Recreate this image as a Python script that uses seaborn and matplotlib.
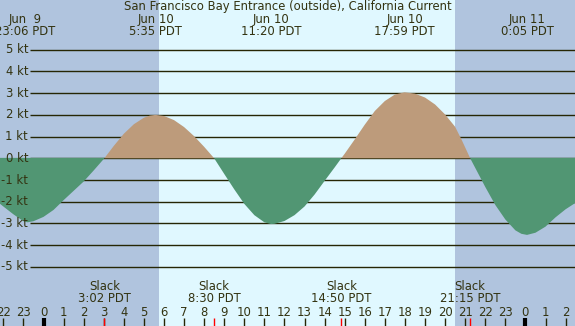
import numpy as np
import pandas as pd
import matplotlib
matplotlib.use("Agg")
import matplotlib.pyplot as plt
import seaborn as sns

# ---------------- data ----------------
TITLE = "San Francisco Bay Entrance (outside), California Current"

# hours relative to Jun 10 00:00 PDT, current speed in knots
hours = [-2.5, -2.0, -1.5, -1.0, -0.8, -0.5, 0.0, 0.5, 1.0, 1.5, 2.0, 2.5, 3.03,
         3.5, 4.0, 4.5, 5.0, 5.3, 5.58, 6.0, 6.5, 7.0, 7.5, 8.0, 8.5,
         9.0, 9.5, 10.0, 10.5, 11.0, 11.33, 11.5, 12.0, 12.5, 13.0, 13.5, 14.0, 14.5, 14.83,
         15.0, 15.5, 16.0, 16.5, 17.0, 17.5, 17.98, 18.5, 19.0, 19.5, 20.0, 20.5, 20.83, 21.25,
         21.5, 22.0, 22.5, 23.0, 23.5, 23.8, 24.08, 24.5, 25.0, 25.5, 26.0, 26.5, 26.8]
speed = [-1.85, -2.22, -2.58, -2.90, -2.95, -2.90, -2.70, -2.38, -1.93, -1.50, -1.07, -0.56, 0.0,
         0.57, 1.13, 1.57, 1.87, 1.97, 2.00, 1.95, 1.76, 1.44, 1.02, 0.53, 0.0,
         -0.72, -1.43, -2.10, -2.62, -2.95, -3.03, -3.02, -2.89, -2.62, -2.22, -1.67, -1.04, -0.42, 0.0,
         0.21, 0.87, 1.55, 2.18, 2.64, 2.94, 3.04, 2.98, 2.80, 2.48, 2.02, 1.45, 0.84, 0.0,
         -0.44, -1.32, -2.15, -2.82, -3.32, -3.48, -3.53, -3.43, -3.15, -2.72, -2.35, -2.05, -1.85]

event_hours = [-0.9, 5.58, 11.33, 17.98, 24.08]
event_dates = ["Jun  9", "Jun 10", "Jun 10", "Jun 10", "Jun 11"]
event_times = ["23:06 PDT", "5:35 PDT", "11:20 PDT", "17:59 PDT", "0:05 PDT"]

slack_hours = [3.03, 8.5, 14.83, 21.25]
slack_times = ["3:02 PDT", "8:30 PDT", "14:50 PDT", "21:15 PDT"]

sunrise, sunset = 5.75, 20.49
kt_levels = [5, 4, 3, 2, 1, 0, -1, -2, -3, -4, -5]
kt_labels = [f"{k} kt" for k in kt_levels]
tick_hours = list(range(-2, 27))
tick_labels = [str(h % 24) for h in tick_hours]

# ---------------- style ----------------
NIGHT = "#b0c4de"
DAY = "#e0f8ff"
FLOOD = "#bd9b7b"
EBB = "#519673"
INK = "#333311"
LINE = "#262604"
FS = 8.4

PX_PER_H = 20.08
X0 = 43.5          # pixel of hour 0
PX_PER_KT = 21.7
Y0 = 158.3         # pixel of 0 kt
W, H = 575, 326


def hx(px):
    return (px - X0) / PX_PER_H


def ky(py):
    return (Y0 - py) / PX_PER_KT


sns.set_style("white")
plt.rcParams["font.family"] = ["DejaVu Sans"]

fig = plt.figure(figsize=(W / 100, H / 100), dpi=100)
ax = fig.add_axes([0, 0, 1, 1])

# background day / night
ax.axvspan(hx(0) - 1, sunrise, color=NIGHT, zorder=0, lw=0)
ax.axvspan(sunrise, sunset, color=DAY, zorder=0, lw=0)
ax.axvspan(sunset, hx(W) + 1, color=NIGHT, zorder=0, lw=0)

# horizontal kt lines
ax.hlines(kt_levels, hx(30), hx(W) + 1, colors=LINE, lw=1.0, zorder=1)
for k, lab in zip(kt_levels, kt_labels):
    ax.text(hx(28), k, lab, ha="right", va="center", fontsize=FS, color=INK, zorder=4)

# current curve
df = pd.DataFrame({"hour": hours, "speed": speed})
h_arr = df["hour"].to_numpy()
v_arr = df["speed"].to_numpy()
ax.fill_between(h_arr, v_arr, 0, where=v_arr >= 0, interpolate=True,
                color=FLOOD, lw=0, zorder=2)
ax.fill_between(h_arr, v_arr, 0.02, where=v_arr <= 0, interpolate=True,
                color=EBB, lw=0, zorder=2)
sns.lineplot(data=df, x="hour", y="speed", ax=ax, lw=0, zorder=2, legend=False)
ax.set_xlim(hx(0), hx(W))
ax.set_ylim(ky(H), ky(0))
ax.set_axis_off()

# title and max-current labels
ax.text(hx(W / 2), ky(7), TITLE, ha="center", va="center", fontsize=FS, color=INK, zorder=4)
for eh, d, t in zip(event_hours, event_dates, event_times):
    ax.text(eh, ky(20), d, ha="center", va="center", fontsize=FS, color=INK, zorder=4)
    ax.text(eh, ky(32), t, ha="center", va="center", fontsize=FS, color=INK, zorder=4)

# slack labels
for sh, t in zip(slack_hours, slack_times):
    ax.text(sh, ky(287), "Slack", ha="center", va="center", fontsize=FS, color=INK, zorder=4)
    ax.text(sh, ky(299), t, ha="center", va="center", fontsize=FS, color=INK, zorder=4)

# hour ticks and labels
for th, tl in zip(tick_hours, tick_labels):
    ax.text(th, ky(312), tl, ha="center", va="center", fontsize=FS, color=INK, zorder=4)
    lw = 3.0 if th % 24 == 0 else 1.0
    ax.vlines(th, ky(H), ky(318), colors="black" if lw > 1 else LINE, lw=lw, zorder=3)
ax.vlines(slack_hours, ky(H), ky(318), colors="red", lw=1.0, zorder=3)

fig.savefig("out.png", dpi=100)
